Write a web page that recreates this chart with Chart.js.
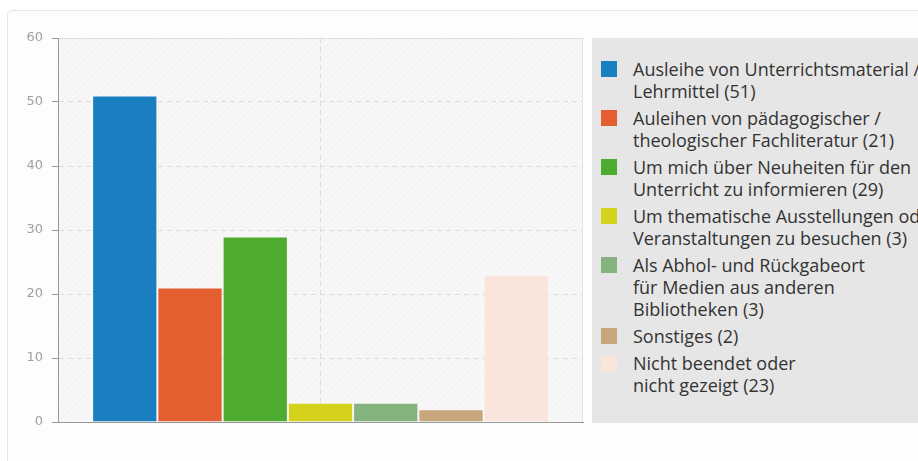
<!DOCTYPE html>
<html>
<head>
<meta charset="utf-8">
<script src="https://cdn.jsdelivr.net/npm/chart.js@4.4.0/dist/chart.umd.min.js"></script>
<style>
  html, body { margin: 0; padding: 0; width: 918px; height: 461px; overflow: hidden; background: #fff; }
  #card { position: absolute; left: 7px; top: 10px; width: 1000px; height: 500px; border: 1px solid #e6e6e6; border-radius: 5px; background: #fdfdfd; }
  #wrap { position: absolute; left: 0; top: 0; width: 918px; height: 461px; }
  #legend { position: absolute; left: 592px; top: 38px; width: 420px; height: 385px; background: #e6e6e6;
            font-family: "Open Sans", sans-serif; font-size: 18px; line-height: 22px; color: #333; box-sizing: border-box; padding-top: 20px; }
  .item { display: flex; align-items: flex-start; margin-bottom: 5px; white-space: nowrap; }
  .box { width: 16px; height: 16px; margin: 3px 16px 0 9px; flex: none; }
</style>
</head>
<body>
<div id="card"></div>
<div id="wrap"><canvas id="chart"></canvas></div>
<div id="legend"></div>
<script>
// Antworten (Zeilenumbrüche wie in der Legende)
const answerLabels = [
    ["Ausleihe von Unterrichtsmaterial /", "Lehrmittel"],
    ["Auleihen von pädagogischer /", "theologischer Fachliteratur"],
    ["Um mich über Neuheiten für den", "Unterricht zu informieren"],
    ["Um thematische Ausstellungen oder", "Veranstaltungen zu besuchen"],
    ["Als Abhol- und Rückgabeort", "für Medien aus anderen", "Bibliotheken"],
    ["Sonstiges"],
    ["Nicht beendet oder", "nicht gezeigt"]
];
const answerCounts = [51, 21, 29, 3, 3, 2, 23];
const barColors = ["#1a7fc1", "#e55e2f", "#4dab2f", "#d4d21c", "#84b37e", "#c7a67c", "#f9e5dc"];
const yMin = 0, yMax = 60, yStep = 10;

function legendLines(i) {
    const lines = answerLabels[i].slice();
    lines[lines.length - 1] += " (" + answerCounts[i] + ")";
    return lines;
}

// Hintergrund der Zeichenfläche mit feiner Schraffur
function hatchPattern(ctx) {
    const c = document.createElement("canvas");
    c.width = 6; c.height = 6;
    const g = c.getContext("2d");
    g.fillStyle = "#f7f7f7";
    g.fillRect(0, 0, 6, 6);
    g.strokeStyle = "rgba(0,0,0,0.025)";
    g.lineWidth = 1;
    g.beginPath();
    g.moveTo(0, 6); g.lineTo(6, 0);
    g.stroke();
    return ctx.createPattern(c, "repeat");
}

const plotBackground = {
    id: "plotBackground",
    beforeDraw(chart) {
        const {ctx, chartArea: a} = chart;
        ctx.save();
        ctx.fillStyle = hatchPattern(ctx);
        ctx.fillRect(a.left, a.top, a.right - a.left, a.bottom - a.top);
        ctx.strokeStyle = "#e2e2e2";
        ctx.lineWidth = 1;
        ctx.beginPath();
        ctx.moveTo(a.left, a.top + 0.5);
        ctx.lineTo(a.right - 0.5, a.top + 0.5);
        ctx.lineTo(a.right - 0.5, a.bottom);
        ctx.stroke();
        ctx.restore();
    }
};

function buildLegend() {
    const el = document.getElementById("legend");
    let html = "";
    for (let i = 0; i < answerLabels.length; i++) {
        html += `<div class="item"><span class="box" style="background:${barColors[i]}"></span>
            <span>${legendLines(i).join("<br>")}</span></div>`;
    }
    el.innerHTML = html;
}

function initChart() {
    const ctx = document.getElementById("chart").getContext("2d");
    new Chart(ctx, {
        type: "bar",
        data: {
            labels: [""],
            datasets: answerLabels.map((l, i) => ({
                label: legendLines(i).join(" "),
                data: [answerCounts[i]],
                backgroundColor: barColors[i],
                borderColor: "rgba(255,255,255,0.2)",
                borderWidth: 1,
                barPercentage: 1,
                categoryPercentage: 0.87
            }))
        },
        options: {
            responsive: true,
            maintainAspectRatio: false,
            animation: false,
            layout: { padding: { left: 0, top: 38, right: 335, bottom: 39 } },
            plugins: { legend: { display: false }, tooltip: { enabled: false } },
            scales: {
                x: {
                    grid: { display: true, offset: false, drawTicks: false, color: "#dcdcdc" },
                    border: { display: true, color: "#999", width: 1, dash: [5, 4] },
                    ticks: { display: false },
                    afterFit: s => { s.height = 0; }
                },
                y: {
                    min: yMin, max: yMax,
                    grid: { color: "#dcdcdc", drawTicks: true, tickLength: 6, tickColor: "#999", tickBorderDash: [] },
                    border: { display: true, color: "#999", width: 1, dash: [5, 4] },
                    ticks: { stepSize: yStep, padding: 9, color: "#a0a0a0", font: { family: "DejaVu Sans", size: 13 } },
                    afterFit: s => { s.width = 58; }
                }
            }
        },
        plugins: [plotBackground]
    });
}

window.onload = () => {
    buildLegend();
    initChart();
};
</script>
</body>
</html>
